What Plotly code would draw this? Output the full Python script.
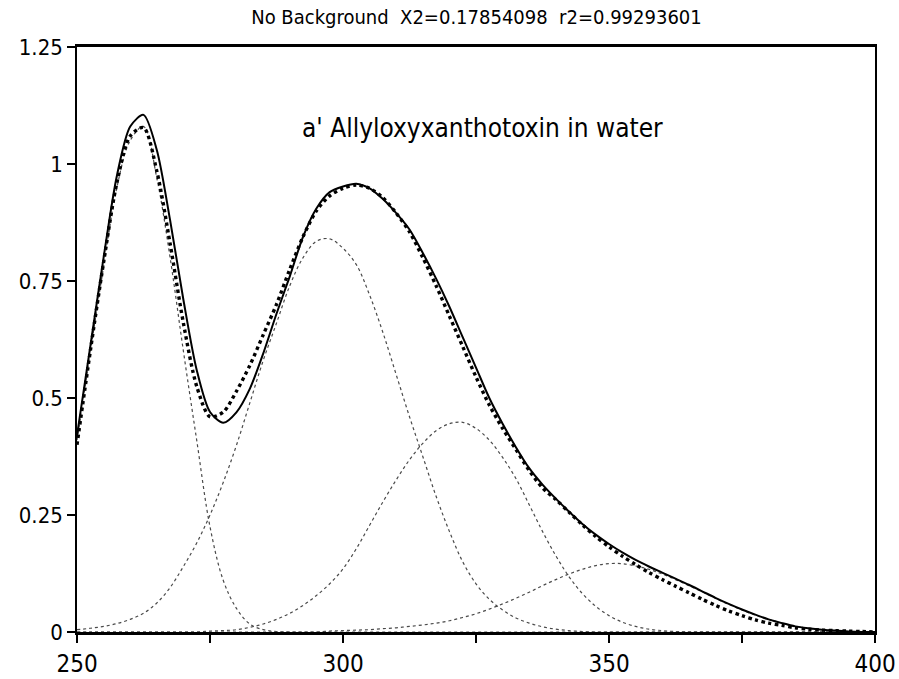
import plotly.graph_objects as go

# Wavelength grid (nm)
wavelength = [250, 252.5, 255, 257.5, 260, 262.5, 265, 267.5, 270, 272.5,
              275, 277.5, 280, 282.5, 285, 287.5, 290, 292.5, 295, 297.5,
              300, 302.5, 305, 307.5, 310, 312.5, 315, 317.5, 320, 322.5,
              325, 327.5, 330, 332.5, 335, 337.5, 340, 342.5, 345, 347.5,
              350, 352.5, 355, 357.5, 360, 362.5, 365, 367.5, 370, 372.5,
              375, 377.5, 380, 382.5, 385, 387.5, 390, 392.5, 395, 397.5, 400]

# Fitted total curve (solid)
fit_total = [0.42, 0.61, 0.80, 0.975, 1.08, 1.105, 1.03, 0.88, 0.71, 0.56,
             0.47, 0.447, 0.47, 0.52, 0.595, 0.68, 0.76, 0.845, 0.905, 0.94,
             0.952, 0.958, 0.948, 0.925, 0.895, 0.86, 0.81, 0.755, 0.695, 0.63,
             0.565, 0.50, 0.445, 0.395, 0.35, 0.315, 0.285, 0.257, 0.231, 0.208,
             0.188, 0.170, 0.154, 0.140, 0.127, 0.114, 0.101, 0.087, 0.073, 0.060,
             0.048, 0.037, 0.027, 0.019, 0.012, 0.008, 0.005, 0.003, 0.001, 0.0, 0.0]

# Measured spectrum (thick dots)
measured = [0.40, 0.60, 0.79, 0.96, 1.06, 1.078, 0.985, 0.83, 0.66, 0.525,
            0.46, 0.47, 0.515, 0.57, 0.635, 0.70, 0.775, 0.845, 0.90, 0.932,
            0.948, 0.955, 0.948, 0.928, 0.895, 0.855, 0.80, 0.74, 0.675, 0.61,
            0.545, 0.485, 0.435, 0.39, 0.345, 0.308, 0.283, 0.256, 0.229, 0.204,
            0.182, 0.162, 0.144, 0.127, 0.112, 0.098, 0.084, 0.070, 0.057, 0.045,
            0.035, 0.026, 0.019, 0.014, 0.009, 0.006, 0.004, 0.003, 0.002, 0.001, 0.0]

# Gaussian components (thin dotted)
band1 = [0.41, 0.60, 0.78, 0.95, 1.05, 1.08, 0.97, 0.80, 0.60, 0.41,
         0.225, 0.11, 0.05, 0.017, 0.005, 0.001] + [0.0] * 45

band2 = [0.005, 0.008, 0.012, 0.018, 0.027, 0.04, 0.062, 0.095, 0.14, 0.19,
         0.25, 0.32, 0.40, 0.49, 0.58, 0.66, 0.74, 0.80, 0.835, 0.84,
         0.82, 0.785, 0.72, 0.64, 0.55, 0.46, 0.375, 0.29, 0.215, 0.15,
         0.103, 0.07, 0.047, 0.03, 0.019, 0.011, 0.006, 0.003, 0.001] + [0.0] * 22

band3 = [0.0] * 10 + [0.002, 0.003, 0.005, 0.01, 0.017, 0.027, 0.04, 0.057, 0.078, 0.103,
                      0.135, 0.178, 0.228, 0.278, 0.325, 0.368, 0.403, 0.43, 0.445, 0.448,
                      0.435, 0.41, 0.373, 0.328, 0.272, 0.215, 0.163, 0.118, 0.082, 0.055,
                      0.035, 0.021, 0.012, 0.006, 0.003, 0.001] + [0.0] * 15

band4 = [0.0] * 19 + [0.002, 0.003, 0.004, 0.005, 0.007, 0.009, 0.012, 0.015, 0.019, 0.024,
                      0.031, 0.039, 0.049, 0.06, 0.072, 0.085, 0.099, 0.112, 0.124, 0.134,
                      0.142, 0.146, 0.146, 0.141, 0.134, 0.124, 0.112, 0.099, 0.086, 0.072,
                      0.059, 0.047, 0.036, 0.027, 0.019, 0.012, 0.008, 0.005, 0.003, 0.001,
                      0.0, 0.0]

x_tick_vals = [250, 275, 300, 325, 350, 375, 400]
x_tick_text = ["250", "", "300", "", "350", "", "400"]
y_tick_vals = [0, 0.25, 0.5, 0.75, 1, 1.25]
y_tick_text = ["0", "0.25", "0.5", "0.75", "1", "1.25"]

title_text = "No Background&nbsp;&nbsp;X2=0.17854098&nbsp;&nbsp;r2=0.99293601"
label_text = "a' Allyloxyxanthotoxin in water"

FONT = "DejaVu Sans Condensed, Liberation Sans Narrow, Liberation Sans, sans-serif"

fig = go.Figure()
for band in [band1, band2, band3, band4]:
    fig.add_trace(go.Scatter(x=wavelength, y=band, mode="lines",
                             line=dict(color="#4a4a4a", width=1.2, dash="dot", shape="spline", smoothing=1.0),
                             showlegend=False, hoverinfo="skip"))
fig.add_trace(go.Scatter(x=wavelength, y=measured, mode="lines",
                         line=dict(color="black", width=3.4, dash="dot", shape="spline", smoothing=0.8),
                         showlegend=False))
fig.add_trace(go.Scatter(x=wavelength, y=fit_total, mode="lines",
                         line=dict(color="black", width=2, shape="spline", smoothing=0.8),
                         showlegend=False))

fig.update_layout(
    width=899, height=679,
    margin=dict(l=77, r=24, t=47, b=47, autoexpand=False),
    paper_bgcolor="white", plot_bgcolor="white",
    showlegend=False,
    font=dict(family=FONT, color="black"),
    title=dict(text=title_text, x=0.53, xanchor="center", y=0.986, yanchor="top",
               font=dict(size=20, family=FONT, color="black")),
)
fig.update_xaxes(range=[250, 400], tickmode="array", tickvals=x_tick_vals, ticktext=x_tick_text,
                 showgrid=False, zeroline=False, showline=True, linecolor="black", linewidth=2.5,
                 mirror=True, ticks="outside", ticklen=8, tickwidth=1.5, tickcolor="black",
                 tickfont=dict(size=24, family=FONT), automargin=False)
fig.update_yaxes(range=[0, 1.25], tickmode="array", tickvals=y_tick_vals, ticktext=y_tick_text,
                 showgrid=False, zeroline=False, showline=True, linecolor="black", linewidth=1.5,
                 mirror=True, ticks="outside", ticklen=8, tickwidth=1.5, tickcolor="black",
                 tickfont=dict(size=22, family=FONT), automargin=False)

fig.add_annotation(x=326.2, y=1.077, xref="x", yref="y", text=label_text, showarrow=False,
                   font=dict(size=26, family=FONT, color="black"), xanchor="center", yanchor="middle")

fig.write_html("out.html")
